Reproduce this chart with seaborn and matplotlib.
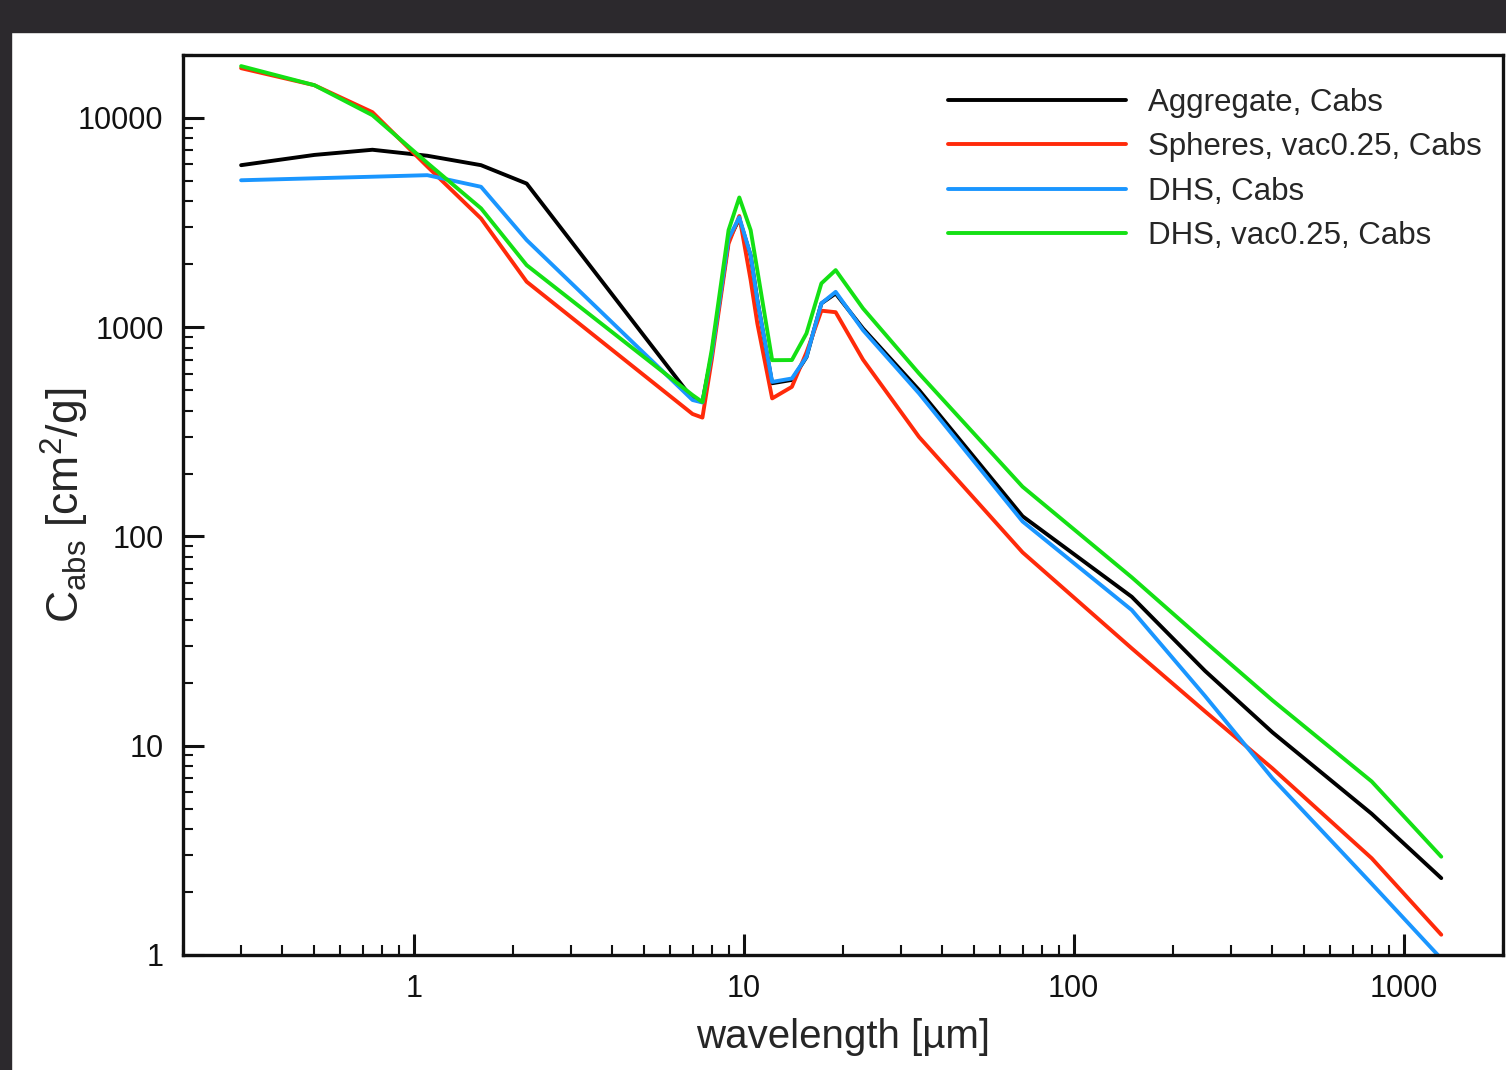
import numpy as np
import pandas as pd
import matplotlib
matplotlib.use("Agg")
import matplotlib.pyplot as plt
import matplotlib.ticker as mticker
from matplotlib.patches import Rectangle
import seaborn as sns

# wavelength grid [um]
wavelength = [0.3, 0.5, 0.75, 1.1, 1.6, 2.2, 7.0, 7.5, 8.0, 9.0, 9.7, 10.5, 11.0,
              12.2, 14.0, 15.5, 17.2, 19.0, 23.0, 34.0, 70, 150, 250, 400, 800, 1300]

# Cabs [cm^2/g]
aggregate = [5950, 6660, 7050, 6600, 5950, 4860, 455, 440, 740, 2600, 3300, 2200, 1350,
             540, 560, 720, 1300, 1450, 986, 501, 125, 51.5, 22.8, 11.6, 4.73, 2.33]
spheres_vac = [17300, 14350, 10660, 5860, 3310, 1650, 385, 370, 696, 2510, 3400, 1680, 1043,
               457, 519, 758, 1200, 1180, 700, 299, 84, 29.2, 14.6, 7.8, 2.9, 1.25]
dhs = [5040, 5150, 5240, 5330, 4690, 2610, 449, 437, 740, 2660, 3350, 2210, 1347,
       548, 569, 722, 1300, 1476, 968, 483, 118, 44.5, 17.3, 7.0, 2.19, 0.96]
dhs_vac = [17700, 14350, 10310, 6100, 3700, 1980, 474, 439, 778, 2910, 4170, 2910, 1875,
           696, 697, 934, 1620, 1875, 1230, 601, 173, 63.8, 31.4, 16.5, 6.75, 2.95]

labels = ["Aggregate, Cabs", "Spheres, vac0.25, Cabs", "DHS, Cabs", "DHS, vac0.25, Cabs"]
colors = ["#000000", "#ff2a0a", "#1a96ff", "#14e014"]

df = pd.concat(
    [pd.DataFrame({"wavelength": wavelength, "cabs": vals, "model": lab})
     for vals, lab in zip([aggregate, spheres_vac, dhs, dhs_vac], labels)],
    ignore_index=True,
)

sns.set_style("ticks")
plt.rcParams["font.family"] = ["Liberation Sans", "DejaVu Sans"]

fig = plt.figure(figsize=(15.06, 10.70), dpi=100)
ax = fig.add_axes([183 / 1506, 115 / 1070, 1320 / 1506, 900 / 1070])

# dark frame of the screenshot
fig.patches.append(Rectangle((0, 1038 / 1070), 1, 32 / 1070, transform=fig.transFigure,
                             color="#2c292d", zorder=-1))
fig.patches.append(Rectangle((0, 0), 11 / 1506, 1, transform=fig.transFigure,
                             color="#2c292d", zorder=-1))

sns.lineplot(data=df, x="wavelength", y="cabs", hue="model", hue_order=labels,
             palette=dict(zip(labels, colors)), estimator=None, sort=False,
             linewidth=2.8, ax=ax)

ax.set_xscale("log")
ax.set_yscale("log")
ax.set_xlim(0.2, 2000)
ax.set_ylim(1, 20000)

fmt = mticker.FuncFormatter(lambda v, p: f"{v:g}")
ax.xaxis.set_major_locator(mticker.FixedLocator([1, 10, 100, 1000]))
ax.yaxis.set_major_locator(mticker.FixedLocator([1, 10, 100, 1000, 10000]))
ax.xaxis.set_major_formatter(fmt)
ax.yaxis.set_major_formatter(fmt)
ax.xaxis.set_minor_locator(mticker.LogLocator(base=10, subs=np.arange(2, 10)))
ax.yaxis.set_minor_locator(mticker.LogLocator(base=10, subs=np.arange(2, 10)))
ax.xaxis.set_minor_formatter(mticker.NullFormatter())
ax.yaxis.set_minor_formatter(mticker.NullFormatter())

ax.tick_params(which="both", direction="in", top=False, right=False, colors="#111111")
ax.tick_params(which="major", length=15, width=2.2, labelsize=22, pad=14)
ax.tick_params(which="minor", length=7, width=1.5)
for sp in ax.spines.values():
    sp.set_linewidth(2.4)
    sp.set_color("#111111")

ax.set_xlabel("wavelength [µm]", fontsize=29, labelpad=10)
ax.set_ylabel(r"C$_\mathregular{abs}$ [cm$^\mathregular{2}$/g]", fontsize=32)
ax.yaxis.set_label_coords(-0.07, 0.5)

handles, labs = ax.get_legend_handles_labels()
leg = ax.legend(handles, labs, loc="upper right", bbox_to_anchor=(1.0085, 1.0),
                frameon=False, fontsize=22.5, handlelength=5.7, handletextpad=0.7,
                labelspacing=0.46, borderaxespad=0.65)
for line in leg.get_lines():
    line.set_linewidth(2.8)

fig.savefig("out.png", dpi=100, facecolor="white")
